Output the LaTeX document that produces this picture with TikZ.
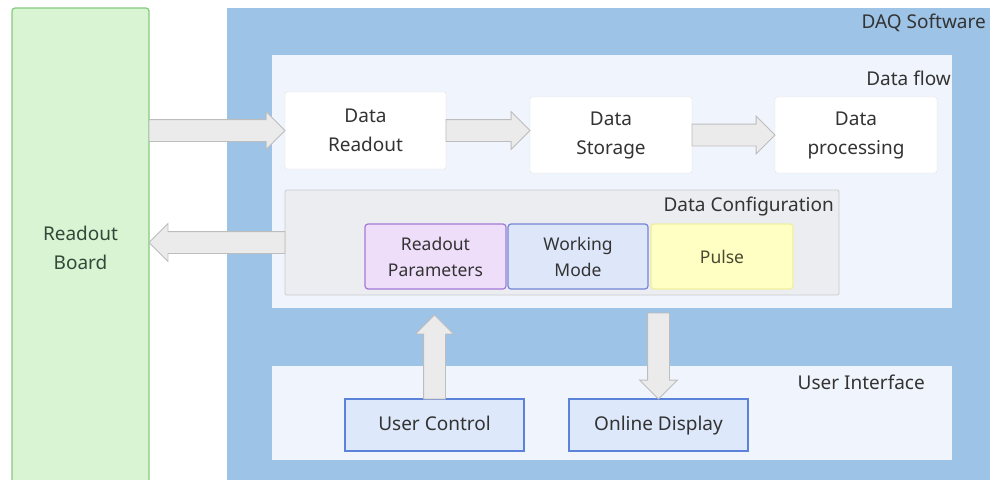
\documentclass[tikz,border=0pt]{standalone}
\usepackage{fontspec}
\setmainfont{Noto Sans}
\usetikzlibrary{shapes.arrows,calc,positioning}

\definecolor{boardfill}{HTML}{D8F4D3}
\definecolor{boardline}{HTML}{86CA7E}
\definecolor{boardtext}{HTML}{34483A}
\definecolor{daqblue}{HTML}{9DC3E6}
\definecolor{panelfill}{HTML}{F0F4FC}
\definecolor{cfgfill}{HTML}{EBEDF0}
\definecolor{cfgline}{HTML}{C9CBCE}
\definecolor{parfill}{HTML}{EEDEFA}
\definecolor{parline}{HTML}{A47AD8}
\definecolor{modefill}{HTML}{DEE6FA}
\definecolor{modeline}{HTML}{7486D6}
\definecolor{pulsefill}{HTML}{FFFFC4}
\definecolor{pulseline}{HTML}{EFEFA2}
\definecolor{pulsetext}{HTML}{4A4A30}
\definecolor{uifill}{HTML}{DDE8FA}
\definecolor{uiline}{HTML}{5B83D9}
\definecolor{arrowfill}{HTML}{EBEBEB}
\definecolor{arrowline}{HTML}{BDBDBD}
\definecolor{textgray}{HTML}{333333}

\tikzset{
  base/.style={anchor=north west, inner sep=0pt, outer sep=0pt, align=center,
    text=textgray, font=\fontsize{19}{29}\selectfont},
  panel/.style={base, fill=panelfill},
  flowbox/.style={base, fill=white, draw=black!12, rounded corners=2pt},
  cfgbox/.style={base, font=\fontsize{17.5}{26}\selectfont, line width=1.2pt, rounded corners=3pt},
  uibox/.style={base, fill=uifill, draw=uiline, line width=1.2pt, text height=14pt, text depth=4pt},
  tag/.style={anchor=east, inner sep=0pt, text=textgray, font=\fontsize{19}{23}\selectfont},
  fatarrow/.style={single arrow, draw=arrowline, fill=arrowfill, line width=0.8pt,
    inner xsep=0pt, inner ysep=10.5pt, single arrow head extend=8pt, outer sep=0pt, anchor=tail}
}

% block arrow from one point to another
\newcommand{\fatarrow}[2]{%
  \path let \p1=(#1), \p2=(#2), \n1={veclen(\x2-\x1,\y2-\y1)},
    \n2={atan2(\y2-\y1,\x2-\x1)} in
    node[fatarrow, minimum height=\n1, rotate=\n2] at (\p1) {};}

\begin{document}
\begin{tikzpicture}[x=1pt, y=-1pt]
  \useasboundingbox (0,0) rectangle (990,479);
  \clip (0,0) rectangle (990,479);

  % readout board and software frame
  \node[base, fill=boardfill, draw=boardline, line width=1.2pt, rounded corners=3pt,
    minimum width=137, minimum height=480, text=boardtext] (board) at (12,8) {Readout\\Board};
  \node[base, fill=daqblue, minimum width=790, minimum height=480] (daq) at (227,8) {};
  \node[tag] (daqtag) at (986,23) {DAQ Software};

  % data flow
  \node[panel, minimum width=680, minimum height=253] (flow) at (272,55) {};
  \node[tag] (flowtag) at (951,78) {Data flow};
  \node[flowbox, minimum width=161, minimum height=77] (readout) at (285,92) {Data\\Readout};
  \node[flowbox, minimum width=162, minimum height=76] (storage) at (530,97) {Data\\Storage};
  \node[flowbox, minimum width=162, minimum height=76] (process) at (775,97) {Data\\processing};

  % data configuration
  \node[base, fill=cfgfill, draw=cfgline, line width=0.8pt, rounded corners=2pt,
    minimum width=554, minimum height=105] (config) at (285,190) {};
  \node[tag] (cfgtag) at (834,207) {Data Configuration};
  \node[cfgbox, fill=parfill, draw=parline, minimum width=141, minimum height=65] (params) at (365,224) {Readout\\Parameters};
  \node[cfgbox, fill=modefill, draw=modeline, minimum width=140, minimum height=65] (mode) at (508,224) {Working\\Mode};
  \node[cfgbox, fill=pulsefill, draw=pulseline, text=pulsetext, minimum width=142, minimum height=65] (pulse) at (651,224) {Pulse};

  % user interface
  \node[panel, minimum width=680, minimum height=94] (ui) at (272,366) {};
  \node[tag] (uitag) at (925,382) {User Interface};
  \node[uibox, minimum width=179, minimum height=52] (uctrl) at (345,399) {User Control};
  \node[uibox, minimum width=179, minimum height=52] (odisp) at (569,399) {Online Display};

  % arrows
  \fatarrow{board.east |- readout.west}{readout.west}
  \fatarrow{readout.east}{storage.west |- readout.east}
  \fatarrow{storage.east}{process.west}
  \fatarrow{config.west}{board.east |- config.west}
  \fatarrow{uctrl.north}{$(uctrl.north |- flow.south)+(0,7)$}
  \fatarrow{$(odisp.north |- flow.south)+(0,5)$}{odisp.north}
\end{tikzpicture}
\end{document}
